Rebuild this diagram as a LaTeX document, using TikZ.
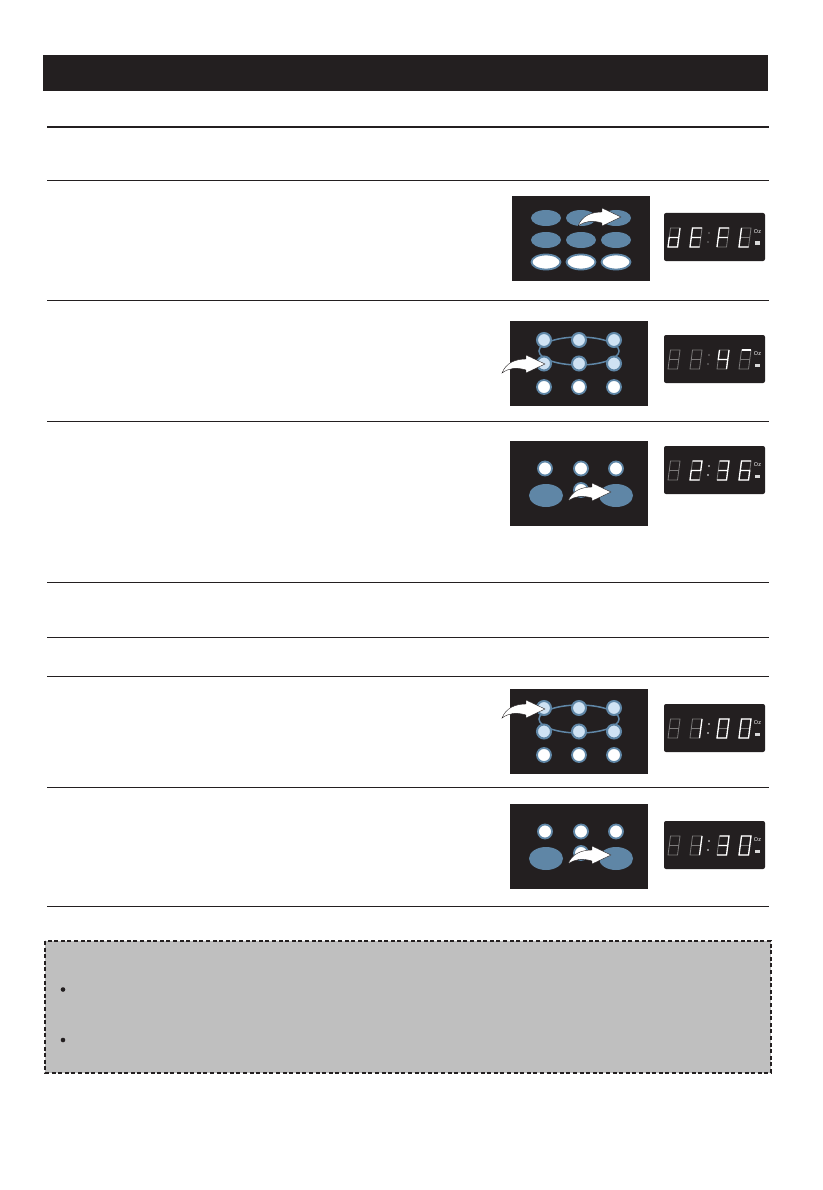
\documentclass[tikz,border=0pt]{standalone}
\usepackage{fontspec}
\setmainfont{Liberation Sans}
\definecolor{ink}{HTML}{231F20}
\definecolor{keyblue}{HTML}{5F86A6}
\definecolor{keylight}{HTML}{CFE2F3}
\definecolor{segdim}{HTML}{7C7A7A}
\definecolor{notegray}{HTML}{BFBFBF}
\tikzset{
  rowline/.style={ink, line width=0.8pt},
  panel/.style={fill=ink, draw=none},
  keyfull/.style={fill=keyblue, draw=none},
  keyopen/.style={fill=white, draw=keyblue, line width=1.8pt},
  keylit/.style={fill=keylight, draw=keyblue, line width=2pt},
  dimseg/.style={segdim, line width=0.8pt},
  litseg/.style={white, line width=1.3pt},
  looppath/.style={keyblue, line width=1.5pt}
}
% lit segments of each digit
\def\digoff{(A)--(A)}
\def\digone{(B)--(R)--(D)}
\def\digtwo{(A)--(B)--(R)--(L)--(C)--(D)}
\def\digthree{(A)--(B)--(R)--(D)--(C) (L)--(R)}
\def\digfour{(A)--(L)--(R) (B)--(R)--(D)}
\def\digsix{(B)--(A)--(L)--(C)--(D)--(R)--(L)}
\def\digzero{(A)--(B)--(D)--(C)--cycle}
\def\digd{(B)--(R)--(D)--(C)--(L)--(R)}
\def\dige{(B)--(A)--(L)--(C)--(D) (L)--(R)}
\def\digf{(B)--(A)--(L)--(C) (L)--(R)}
\def\digl{(A)--(L)--(C)--(D)}
\def\digtop{(A)--(B)}
% one digit: x, y, lit path
\newcommand{\segdigit}[3]{
\begin{scope}[shift={(#1,#2)}]
\coordinate (A) at (2.5,0);
\coordinate (B) at (12,0);
\coordinate (L) at (1.25,9.5);
\coordinate (R) at (10.75,9.5);
\coordinate (C) at (0,19);
\coordinate (D) at (9.5,19);
\draw[dimseg] (A)--(B)--(D)--(C)--cycle (L)--(R);
\draw[litseg] #3;
\end{scope}
}
% one display: top y, four digits, colour of the colon
\newcommand{\clockface}[6]{
\fill[ink, rounded corners=2pt] (664,#1) rectangle (765,#1+48);
\segdigit{668}{#1+15}{#2}
\segdigit{690}{#1+15}{#3}
\segdigit{717}{#1+15}{#4}
\segdigit{739}{#1+15}{#5}
\fill[#6] (709,#1+20) circle (0.9);
\fill[#6] (708,#1+29) circle (0.9);
\node[white, font=\fontsize{5.5}{5.5}\selectfont, inner sep=0pt] (oz#1) at (757.5,#1+19) {Oz};
\fill[white!85!black] (755,#1+28.5) rectangle (760,#1+32);
}
% white bent arrow: tail x, tail y
\newcommand{\bentarrow}[2]{
\filldraw[fill=white, draw=ink, line width=0.4pt, shift={(#1,#2)}] (0,0) .. controls (4,-10) and (13,-14) .. (24,-14)
  -- (24,-18) -- (43,-9) -- (24,0) -- (24,-3) .. controls (14,-6) and (7,-5) .. cycle;
}
% circles with the oval through the two upper rows
\newcommand{\circlepad}[1]{
\fill[panel] (510,#1) rectangle (648,#1+85);
\draw[looppath] (579,#1+30) ellipse (40 and 14);
\foreach \keyx in {544,579,614} {
  \draw[keylit] (\keyx,#1+19) circle (7);
  \draw[keylit] (\keyx,#1+42.5) circle (7);
  \draw[keyopen] (\keyx,#1+66) circle (7);
}
}
% three circles and two wide keys
\newcommand{\widepad}[1]{
\fill[panel] (510,#1) rectangle (648,#1+85);
\foreach \keyx in {545,581,616} {
  \draw[keyopen] (\keyx,#1+27.5) circle (7);
}
\draw[keyopen] (581,#1+49) circle (7);
\fill[keyfull] (546,#1+54.5) ellipse (17 and 11.5);
\fill[keyfull] (616,#1+54.5) ellipse (17 and 11.5);
\bentarrow{568}{#1+60}
}
\begin{document}
\begin{tikzpicture}[x=1pt, y=-1pt]
\useasboundingbox (0,0) rectangle (822,1190);

% Title bar
\fill[ink] (43,55) rectangle (768,91);

% Row lines
\draw[ink, line width=1.6pt] (47,127) -- (769,127);
\foreach \rowy in {180,300,421,582,637,676,787,906} {
  \draw[rowline] (47,\rowy) -- (769,\rowy);
}

% Oval keys
\fill[panel] (512,196) rectangle (650,281);
\foreach \keyx in {546,581,616} {
  \fill[keyfull] (\keyx,218) ellipse (15 and 8);
  \fill[keyfull] (\keyx,240) ellipse (15 and 8);
  \draw[keyopen] (\keyx,262) ellipse (14.5 and 7.5);
}
\bentarrow{578}{226}
\clockface{213}{\digd}{\dige}{\digf}{\digl}{segdim}

% Circle keys, second row
\circlepad{321}
\bentarrow{502}{373}
\clockface{335}{\digoff}{\digoff}{\digfour}{\digtop}{segdim}

% Wide keys, third row
\widepad{441}
\clockface{446}{\digoff}{\digtwo}{\digthree}{\digsix}{white}

% Circle keys, fourth row
\circlepad{689}
\bentarrow{502}{718}
\clockface{704}{\digoff}{\digone}{\digzero}{\digzero}{white}

% Wide keys, last row
\widepad{804}
\clockface{821}{\digoff}{\digone}{\digthree}{\digzero}{white}

% Note box
\draw[fill=notegray, draw=ink, line width=1.3pt, dash pattern=on 4pt off 2.6pt] (45,941) rectangle (771,1073);
\fill[ink] (63,989.5) circle (2.3);
\fill[ink] (63,1040) circle (2.3);

\end{tikzpicture}
\end{document}
